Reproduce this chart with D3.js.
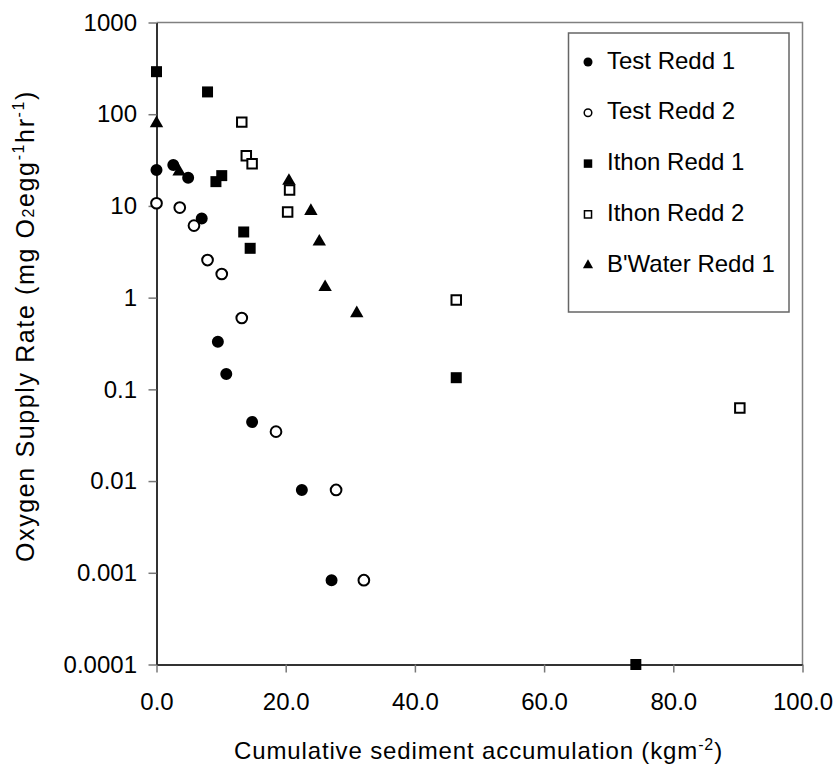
<!DOCTYPE html>
<html lang="en">
<head>
    <meta charset="UTF-8">
    <title>Oxygen Supply Rate vs Sediment Accumulation</title>
    <script src="https://d3js.org/d3.v7.min.js"></script>
    <style>
        body { margin: 0; background: #fff; }
        svg { font-family: "Liberation Sans", Arial, sans-serif; }
        .axis text { font-size: 24px; fill: #000; }
    </style>
</head>
<body>
    <svg id="chart" width="837" height="765"></svg>

    <script>
        // Series (x in kg/m2, y in mg O2/egg/hr)
        const seriesNames = ["Test Redd 1", "Test Redd 2", "Ithon Redd 1", "Ithon Redd 2", "B'Water Redd 1"];

        const testRedd1X = [0, 2.6, 4.9, 7.0, 9.5, 10.8, 14.8, 22.5, 27.1];
        const testRedd1Y = [24.7, 27.9, 20.3, 7.3, 0.33, 0.147, 0.044, 0.008, 0.00083];

        const testRedd2X = [0, 3.6, 5.8, 7.9, 10.1, 13.2, 18.5, 27.8, 32.1];
        const testRedd2Y = [10.7, 9.6, 6.1, 2.57, 1.81, 0.60, 0.0346, 0.008, 0.00083];

        const ithon1X = [0, 7.9, 9.2, 10.1, 13.5, 14.5, 46.4, 74.2];
        const ithon1Y = [291, 175, 18.4, 21.4, 5.2, 3.45, 0.134, 0.0001];

        const ithon2X = [13.2, 13.9, 14.8, 20.3, 20.6, 46.4, 90.3];
        const ithon2Y = [82, 35.3, 28.9, 8.6, 14.9, 0.94, 0.0626];

        const bwaterX = [0, 3.5, 20.5, 23.9, 25.2, 26.1, 31.0];
        const bwaterY = [79.6, 23.6, 18.7, 8.8, 4.07, 1.30, 0.675];

        const xTicks = [0, 20, 40, 60, 80, 100];
        const yTicks = [0.0001, 0.001, 0.01, 0.1, 1, 10, 100, 1000];
        const yTickLabels = ["0.0001", "0.001", "0.01", "0.1", "1", "10", "100", "1000"];

        // marker style per series
        const markers = [
            { type: d3.symbolCircle, fill: "#000", size: 113, legendSize: 64 },
            { type: d3.symbolCircle, fill: "#fff", size: 90, legendSize: 45 },
            { type: d3.symbolSquare, fill: "#000", size: 121, legendSize: 72 },
            { type: d3.symbolSquare, fill: "#fff", size: 90, legendSize: 50 },
            { type: d3.symbolTriangle, fill: "#000", size: 78, legendSize: 45 }
        ];

        const series = [
            [testRedd1X, testRedd1Y],
            [testRedd2X, testRedd2Y],
            [ithon1X, ithon1Y],
            [ithon2X, ithon2Y],
            [bwaterX, bwaterY]
        ].map(([xs, ys], i) => ({
            name: seriesNames[i],
            points: xs.map((x, j) => ({ x: x, y: ys[j] }))
        }));

        const svg = d3.select("#chart"),
            margin = { top: 22.5, right: 34.5, bottom: 100.5, left: 156.5 },
            width = +svg.attr("width") - margin.left - margin.right,
            height = +svg.attr("height") - margin.top - margin.bottom;

        const chart = svg.append("g")
            .attr("transform", `translate(${margin.left},${margin.top})`);

        const x = d3.scaleLinear().domain([0, 100]).range([0, width]);
        const y = d3.scaleLog().domain([0.0001, 1000]).range([height, 0]);

        // top and right frame
        chart.append("path")
            .attr("d", `M0,0H${width}V${height}`)
            .attr("fill", "none")
            .attr("stroke", "#808080")
            .attr("stroke-width", 1.5);

        // Axes
        const xAxis = chart.append("g")
            .attr("class", "axis")
            .attr("transform", `translate(0,${height})`)
            .call(d3.axisBottom(x).tickValues(xTicks).tickFormat(d3.format(".1f"))
                .tickSize(8).tickSizeOuter(0).tickPadding(20.5));

        const yAxis = chart.append("g")
            .attr("class", "axis")
            .call(d3.axisLeft(y).tickValues(yTicks).tickFormat((d, i) => yTickLabels[i])
                .tickSize(8).tickSizeOuter(0).tickPadding(11.5));

        [xAxis, yAxis].forEach(a => {
            a.select(".domain").attr("stroke", "#333").attr("stroke-width", 2);
            a.selectAll(".tick line").attr("stroke", "#777").attr("stroke-width", 1.5);
            a.attr("font-family", null).attr("font-size", null);
        });

        // Points
        series.forEach((s, i) => {
            const m = markers[i];
            chart.append("g")
                .selectAll("path")
                .data(s.points)
                .enter().append("path")
                .attr("transform", d => `translate(${x(d.x)},${y(d.y)})`)
                .attr("d", d3.symbol().type(m.type).size(m.size))
                .attr("fill", m.fill)
                .attr("stroke", "#000")
                .attr("stroke-width", m.fill === "#fff" ? 2 : 0);
        });

        // stretch a title's letter spacing so it spans the given length
        function fitLength(sel, target) {
            const len = sel.node().getComputedTextLength();
            const chars = sel.text().length;
            sel.attr("letter-spacing", Math.max(0, (target - len) / chars));
        }

        // Axis titles
        const xTitle = svg.append("text")
            .attr("x", 478.5)
            .attr("y", 758.5)
            .attr("text-anchor", "middle")
            .attr("font-size", 24);
        xTitle.append("tspan").text("Cumulative sediment accumulation (kgm");
        xTitle.append("tspan").attr("font-size", 16).attr("dy", -9).text("-2");
        xTitle.append("tspan").attr("dy", 9).text(")");
        fitLength(xTitle, 489);

        const yTitle = svg.append("text")
            .attr("transform", "translate(33.5,326) rotate(-90)")
            .attr("text-anchor", "middle")
            .attr("font-size", 25);
        yTitle.append("tspan").text("Oxygen Supply Rate (mg O");
        yTitle.append("tspan").attr("font-size", 16).text("2");
        yTitle.append("tspan").text("egg");
        yTitle.append("tspan").attr("font-size", 16).attr("dy", -10).text("-1");
        yTitle.append("tspan").attr("dy", 10).text("hr");
        yTitle.append("tspan").attr("font-size", 16).attr("dy", -10).text("-1");
        yTitle.append("tspan").attr("dy", 10).text(")");
        fitLength(yTitle, 472);

        // Legend
        const legendBox = svg.append("g").attr("transform", "translate(568.5,33)");
        legendBox.append("rect")
            .attr("width", 220.5)
            .attr("height", 279)
            .attr("fill", "#fff")
            .attr("stroke", "#666")
            .attr("stroke-width", 1.5);

        const legend = legendBox.selectAll(".legend")
            .data(series)
            .enter().append("g")
            .attr("transform", (d, i) => `translate(0,${35.5 + i * 50.8})`);

        legend.append("path")
            .attr("transform", "translate(19.5,-6.5)")
            .attr("d", (d, i) => d3.symbol().type(markers[i].type).size(markers[i].legendSize)())
            .attr("fill", (d, i) => markers[i].fill)
            .attr("stroke", "#000")
            .attr("stroke-width", (d, i) => markers[i].fill === "#fff" ? 1.5 : 0);

        legend.append("text")
            .attr("x", 38.5)
            .attr("font-size", 24)
            .text(d => d.name);
    </script>
</body>
</html>
